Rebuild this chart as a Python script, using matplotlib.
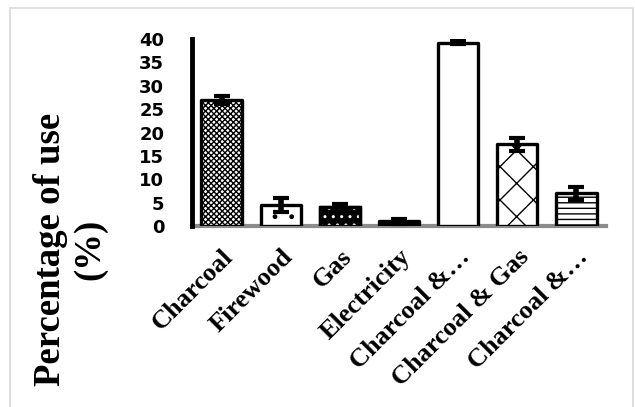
import numpy as np
import matplotlib.pyplot as plt
from matplotlib.patches import Rectangle

categories = ['Charcoal', 'Firewood', 'Gas', 'Electricity', 'Charcoal &\u2026',
              'Charcoal & Gas', 'Charcoal &\u2026']
values = [27, 4.5, 4, 1, 39.2, 17.5, 7]
errors = [0.8, 1.5, 0.6, 0.5, 0.3, 1.4, 1.4]
yticks = [0, 5, 10, 15, 20, 25, 30, 35, 40]

faces = ['white', 'white', 'black', 'black', 'white', 'white', 'white']
hatches = ['xxxxxx', '.', None, None, None, 'x', '---']

fig = plt.figure(figsize=(6.35, 4.07), dpi=100)
ax = fig.add_axes([192 / 635, 1 - 226 / 407, 414 / 635, 187 / 407])

# light grey frame round the figure
fig.patches.append(Rectangle((10 / 635, -0.1), 623 / 635, 1.1 - 8 / 407,
                             transform=fig.transFigure, fill=False,
                             edgecolor='#d9d9d9', linewidth=1.2))

x = np.arange(len(categories))
bars = ax.bar(x, values, width=0.68, color=faces, edgecolor='black',
              linewidth=2.4, zorder=3)
for b, h in zip(bars, hatches):
    if h:
        b.set_hatch(h)
    b.set_joinstyle('round')

# white dots on the black gas bar
ax.bar(x[2], values[2], width=0.68, fill=False, edgecolor='white',
       hatch='..', linewidth=0, zorder=3.5)
ax.bar(x[2], values[2], width=0.68, fill=False, edgecolor='black',
       linewidth=2.4, zorder=3.6)

ax.errorbar(x, values, yerr=errors, fmt='none', ecolor='black',
            elinewidth=4, capsize=6, capthick=3, zorder=4)

ax.set_xlim(-0.5, len(categories) - 0.5)
ax.set_ylim(0, 40)
ax.set_yticks(yticks)
ax.set_yticklabels([str(t) for t in yticks], fontfamily='DejaVu Sans',
                   fontweight='bold', fontsize=13)
ax.set_xticks(x)
ax.set_xticklabels(categories, rotation=45, ha='right',
                   rotation_mode='anchor', fontfamily='Liberation Serif',
                   fontweight='bold', fontsize=19)
ax.tick_params(axis='y', length=0, pad=20)
ax.tick_params(axis='x', length=0, pad=14)

for s in ['top', 'right']:
    ax.spines[s].set_visible(False)
ax.spines['left'].set_linewidth(3.5)
ax.spines['left'].set_color('black')
ax.spines['bottom'].set_linewidth(3)
ax.spines['bottom'].set_color('#8c8c8c')
ax.spines['bottom'].set_zorder(2)

fig.text(0.11, 1 - 249 / 407, 'Percentage of use\n(%)', rotation=90,
         ha='center', va='center', fontfamily='Liberation Serif',
         fontweight='bold', fontsize=26.5, linespacing=1.15)

fig.savefig('out.png', dpi=100)
